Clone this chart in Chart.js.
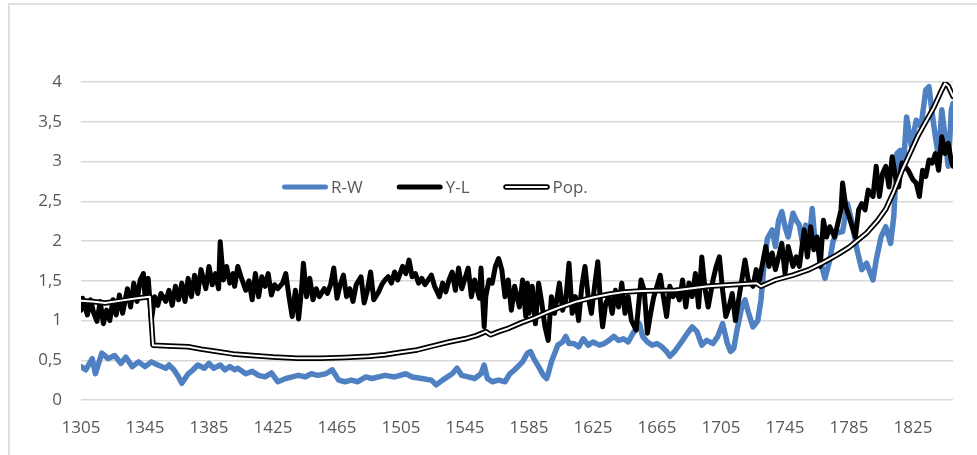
<!DOCTYPE html>
<html>
<head>
<meta charset="utf-8">
<script src="https://cdn.jsdelivr.net/npm/chart.js@4.4.1/dist/chart.umd.min.js"></script>
<style>
  html, body { margin: 0; padding: 0; background: #fff; overflow: hidden; }
  #moldura { position: absolute; left: 8px; top: 3px; width: 1100px; height: 500px; border: 2px solid #e0e0e0; box-sizing: border-box; }
  #caixa { position: absolute; left: 0; top: 0; width: 977px; height: 455px; }
</style>
</head>
<body>
<div id="moldura"></div>
<div id="caixa"><canvas id="grafico"></canvas></div>
<script>
// rótulos do eixo x
const xTicks = [1305, 1345, 1385, 1425, 1465, 1505, 1545, 1585, 1625, 1665, 1705, 1745, 1785, 1825];

// R-W (azul)
const rwYears = [
  1305,1308,1312,1314,1318,1322,1326,1330,1333,1337,
  1341,1345,1349,1353,1358,1360,1363,1366,1368,1372,
  1375,1378,1382,1385,1388,1392,1395,1398,1401,1403,
  1408,1412,1416,1420,1424,1428,1433,1437,1441,1445,
  1449,1453,1458,1462,1466,1470,1474,1478,1483,1487,
  1491,1495,1501,1508,1512,1518,1524,1527,1531,1537,
  1540,1543,1547,1551,1555,1557,1559,1562,1566,1570,
  1573,1576,1581,1584,1586,1588,1591,1594,1596,1597,
  1599,1603,1606,1608,1610,1613,1616,1619,1622,1625,
  1629,1632,1635,1638,1641,1644,1647,1650,1654,1656,
  1659,1662,1665,1668,1671,1673,1676,1681,1684,1687,
  1690,1693,1696,1700,1703,1706,1709,1711,1713,1715,
  1718,1720,1722,1725,1728,1730,1732,1734,1737,1739,
  1741,1743,1745,1747,1750,1752,1754,1756,1758,1760,
  1762,1764,1766,1768,1770,1773,1775,1777,1781,1784,
  1787,1790,1793,1796,1800,1802,1805,1808,1811,1813,
  1815,1817,1819,1821,1824,1827,1830,1833,1835,1837,
  1839,1841,1843,1845,1847,1849,1850
];
const rwValues = [
  0.42,0.38,0.52,0.33,0.59,0.52,0.56,0.46,0.54,0.42,
  0.48,0.42,0.48,0.44,0.40,0.44,0.38,0.29,0.21,0.33,
  0.38,0.44,0.40,0.46,0.40,0.44,0.38,0.42,0.38,0.40,
  0.33,0.36,0.31,0.29,0.34,0.23,0.27,0.29,0.31,0.29,
  0.33,0.31,0.33,0.38,0.25,0.23,0.25,0.23,0.29,0.27,
  0.29,0.31,0.29,0.33,0.29,0.27,0.25,0.19,0.25,0.33,
  0.40,0.31,0.29,0.27,0.33,0.44,0.27,0.23,0.25,0.23,
  0.33,0.38,0.48,0.59,0.61,0.52,0.42,0.31,0.27,0.33,
  0.48,0.69,0.73,0.80,0.71,0.71,0.67,0.77,0.69,0.73,
  0.69,0.71,0.75,0.80,0.75,0.77,0.73,0.84,0.96,0.80,
  0.73,0.69,0.71,0.67,0.61,0.55,0.61,0.75,0.84,0.92,
  0.86,0.69,0.75,0.71,0.80,0.96,0.71,0.61,0.65,0.88,
  1.17,1.26,1.11,0.92,1.00,1.26,1.72,2.03,2.14,1.93,
  2.26,2.37,2.18,2.05,2.35,2.26,2.20,1.97,2.20,1.93,
  2.41,1.93,1.89,1.68,1.53,1.76,1.99,2.10,2.12,2.47,
  2.22,1.89,1.64,1.72,1.51,1.76,2.05,2.18,1.97,2.31,
  3.10,3.14,2.94,3.56,3.19,3.52,3.44,3.90,3.94,3.60,
  3.31,3.06,3.65,3.31,2.94,3.65,3.73
];

// Y-L (preto)
const ylYears = [
  1305,1306,1309,1311,1313,1315,1317,1319,1321,1323,
  1325,1327,1329,1331,1334,1336,1338,1340,1342,1344,
  1345,1347,1349,1351,1353,1355,1358,1360,1362,1364,
  1366,1368,1370,1372,1374,1376,1378,1380,1383,1385,
  1387,1389,1391,1392,1394,1396,1398,1400,1401,1403,
  1405,1408,1410,1412,1414,1416,1418,1420,1422,1424,
  1426,1428,1431,1433,1435,1437,1439,1441,1443,1444,
  1446,1448,1450,1452,1454,1457,1459,1461,1463,1465,
  1467,1469,1471,1473,1475,1477,1480,1482,1484,1486,
  1488,1491,1493,1495,1497,1499,1501,1503,1506,1508,
  1510,1512,1514,1516,1518,1520,1522,1524,1526,1529,
  1531,1533,1535,1537,1539,1541,1543,1545,1547,1549,
  1551,1554,1555,1557,1558,1560,1562,1564,1566,1568,
  1570,1572,1574,1576,1579,1581,1583,1584,1585,1587,
  1589,1591,1593,1595,1597,1599,1601,1604,1606,1608,
  1610,1612,1614,1616,1618,1620,1622,1624,1626,1628,
  1630,1631,1633,1635,1637,1639,1641,1643,1645,1647,
  1649,1652,1654,1655,1657,1659,1661,1663,1665,1667,
  1669,1671,1673,1675,1677,1679,1681,1683,1685,1687,
  1689,1691,1693,1695,1697,1700,1702,1704,1706,1708,
  1710,1712,1714,1716,1718,1720,1722,1725,1727,1729,
  1731,1733,1735,1737,1739,1741,1743,1745,1747,1750,
  1752,1754,1757,1759,1761,1763,1765,1767,1769,1771,
  1773,1776,1778,1780,1781,1783,1785,1787,1789,1791,
  1793,1795,1797,1800,1802,1804,1806,1808,1810,1812,
  1814,1816,1818,1820,1822,1825,1827,1829,1831,1833,
  1835,1837,1839,1841,1843,1845,1847,1849,1850
];
const ylValues = [
  1.13,1.28,1.07,1.26,1.09,0.99,1.24,0.96,1.13,1.00,
  1.26,1.07,1.32,1.09,1.40,1.17,1.47,1.24,1.51,1.59,
  1.30,1.53,1.00,1.30,1.19,1.34,1.24,1.38,1.19,1.43,
  1.26,1.47,1.24,1.53,1.30,1.57,1.34,1.64,1.40,1.68,
  1.45,1.59,1.40,1.99,1.51,1.68,1.47,1.59,1.43,1.68,
  1.55,1.38,1.50,1.26,1.59,1.30,1.55,1.43,1.59,1.32,
  1.45,1.40,1.47,1.59,1.30,1.05,1.38,1.02,1.43,1.72,
  1.30,1.53,1.26,1.40,1.30,1.40,1.34,1.45,1.66,1.28,
  1.45,1.57,1.30,1.40,1.24,1.45,1.55,1.22,1.38,1.61,
  1.26,1.36,1.45,1.51,1.55,1.47,1.61,1.51,1.68,1.59,
  1.76,1.55,1.59,1.47,1.53,1.45,1.51,1.57,1.43,1.30,
  1.47,1.36,1.51,1.61,1.38,1.66,1.40,1.53,1.66,1.30,
  1.51,1.28,1.66,0.92,1.30,1.51,1.47,1.68,1.78,1.64,
  1.30,1.51,1.13,1.43,1.17,1.51,1.05,1.47,1.09,1.43,
  0.96,1.47,1.22,0.92,0.75,1.30,1.09,1.47,1.13,1.26,
  1.72,1.09,1.30,1.00,1.43,1.68,1.30,1.09,1.43,1.74,
  1.13,0.92,1.22,1.30,1.09,1.38,1.17,1.47,1.09,1.30,
  1.00,0.88,1.30,1.51,1.38,0.84,1.09,1.30,1.43,1.57,
  1.30,1.05,1.43,1.30,1.38,1.26,1.51,1.17,1.47,1.30,
  1.59,1.17,1.80,1.40,1.17,1.51,1.68,1.80,1.38,1.05,
  1.17,1.34,1.00,1.26,1.51,1.76,1.51,1.43,1.64,1.51,
  1.72,1.93,1.68,1.85,1.64,1.80,1.97,1.59,1.93,1.68,
  1.80,1.68,2.14,1.80,2.18,1.89,2.05,1.68,2.26,2.05,
  2.18,2.05,2.22,2.39,2.73,2.43,2.31,2.18,2.05,2.39,
  2.47,2.39,2.64,2.56,2.94,2.56,2.85,2.94,2.68,3.06,
  2.81,2.68,2.98,2.94,2.89,2.77,2.73,2.56,2.89,2.81,
  3.02,2.98,3.10,2.89,3.31,3.10,3.23,3.00,2.94
];

// Pop. (linha dupla)
const popYears = [
  1305,1312,1320,1330,1340,1348,1350,1360,1372,1380,
  1390,1400,1412,1425,1440,1455,1470,1485,1495,1505,
  1515,1525,1535,1545,1552,1558,1561,1566,1572,1580,
  1588,1596,1605,1615,1625,1635,1645,1655,1677,1697,
  1727,1730,1739,1750,1760,1768,1777,1785,1796,1803,
  1808,1813,1818,1823,1828,1833,1838,1843,1845,1847,
  1850
];
const popValues = [
  1.25,1.24,1.22,1.25,1.28,1.30,0.69,0.68,0.67,0.64,
  0.61,0.58,0.56,0.54,0.525,0.525,0.535,0.55,0.57,0.60,
  0.63,0.68,0.73,0.77,0.81,0.86,0.82,0.86,0.90,0.97,
  1.03,1.10,1.17,1.24,1.29,1.33,1.36,1.37,1.38,1.43,
  1.47,1.43,1.51,1.57,1.64,1.72,1.82,1.92,2.10,2.26,
  2.40,2.62,2.88,3.10,3.32,3.50,3.68,3.90,3.98,3.95,
  3.82
];

const azul = '#4e80c2';
const cinzaTexto = '#595959';
const fonte = '"Open Sans", sans-serif';

function pares(anos, valores) {
  return anos.map((a, i) => ({ x: a, y: valores[i] }));
}

// legenda desenhada dentro da área do gráfico, como no original
const legendaPlugin = {
  id: 'legenda',
  afterDraw(chart) {
    const ctx = chart.ctx;
    const area = chart.chartArea;
    let x = area.left + 201;
    const y = area.top + 105;
    const itens = [
      { texto: 'R-W', cor: azul, largura: 5 },
      { texto: 'Y-L', cor: '#000', largura: 5 },
      { texto: 'Pop.', cor: '#000', largura: 5.5, dupla: true }
    ];
    ctx.save();
    ctx.font = '17px ' + fonte;
    ctx.textBaseline = 'middle';
    ctx.lineCap = 'round';
    itens.forEach(item => {
      ctx.beginPath();
      ctx.moveTo(x + 2.5, y);
      ctx.lineTo(x + 43.5, y);
      ctx.strokeStyle = item.cor;
      ctx.lineWidth = item.largura;
      ctx.stroke();
      if (item.dupla) {
        ctx.beginPath();
        ctx.moveTo(x + 2.5, y);
        ctx.lineTo(x + 43.5, y);
        ctx.strokeStyle = '#fff';
        ctx.lineWidth = 2;
        ctx.stroke();
      }
      ctx.fillStyle = cinzaTexto;
      ctx.fillText(item.texto, x + 49, y + 1);
      x += 49 + ctx.measureText(item.texto).width + 34;
    });
    ctx.restore();
  }
};

Chart.defaults.font.family = fonte;
Chart.defaults.font.size = 17;
Chart.defaults.color = cinzaTexto;

const config = {
  type: 'line',
  data: {
    datasets: [
      { label: 'R-W', data: pares(rwYears, rwValues), borderColor: azul, borderWidth: 5.5, order: 4 },
      { label: 'Y-L', data: pares(ylYears, ylValues), borderColor: '#000', borderWidth: 5, order: 3 },
      { label: 'Pop.', data: pares(popYears, popValues), borderColor: '#000', borderWidth: 5.5, order: 2 },
      { label: 'Pop. interior', data: pares(popYears, popValues), borderColor: '#fff', borderWidth: 2, order: 1 }
    ]
  },
  options: {
    responsive: true,
    maintainAspectRatio: false,
    animation: false,
    layout: { padding: { top: 82, right: 24, bottom: 0, left: 0 } },
    elements: {
      point: { radius: 0 },
      line: { tension: 0, borderJoinStyle: 'round', borderCapStyle: 'round' }
    },
    plugins: {
      legend: { display: false },
      tooltip: { enabled: false }
    },
    scales: {
      x: {
        type: 'linear',
        min: 1305,
        max: 1850,
        grid: { display: false },
        border: { display: false },
        afterBuildTicks(scale) {
          scale.ticks = xTicks.map(v => ({ value: v }));
        },
        afterFit(scale) { scale.height = 55; },
        ticks: {
          padding: 10,
          maxRotation: 0,
          autoSkip: false,
          callback: v => String(v)
        }
      },
      y: {
        min: 0,
        max: 4,
        grid: { color: '#d9d9d9', lineWidth: 1.5, drawTicks: false },
        border: { display: false },
        afterFit(scale) { scale.width = 81; },
        ticks: {
          stepSize: 0.5,
          padding: 19,
          callback: v => String(v).replace('.', ',')
        }
      }
    }
  },
  plugins: [legendaPlugin]
};

const grafico = new Chart(document.getElementById('grafico'), config);
</script>
</body>
</html>
